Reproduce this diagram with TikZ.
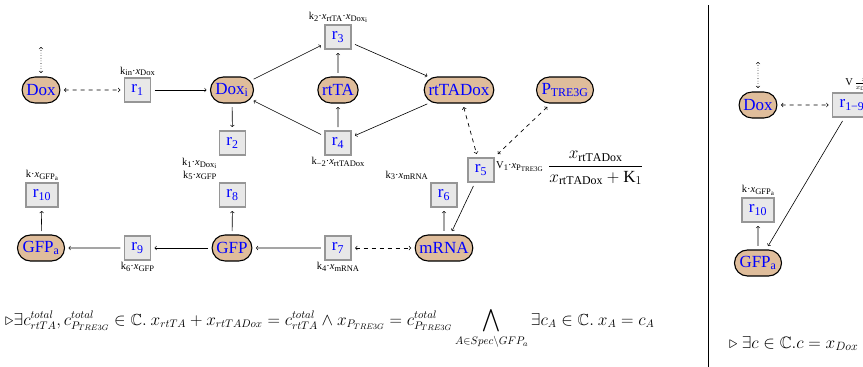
\documentclass[tikz,border=0pt]{standalone}
\usepackage{amsmath,amssymb}
\usepackage{fontspec}
\setmainfont{Liberation Serif}
\usetikzlibrary{
  positioning,
  shapes.misc,
  arrows
}
\definecolor{specfill}{RGB}{223,189,155}
\definecolor{reacfill}{RGB}{232,232,232}
\definecolor{reacdraw}{RGB}{150,150,150}
\newcommand{\lsub}[1]{\raisebox{-0.35ex}{\fontsize{8.5}{9}\selectfont #1}}
\newcommand{\llsub}[1]{\raisebox{-0.3ex}{\fontsize{7}{7}\selectfont #1}}

\begin{document}
\begin{tikzpicture}[x=1pt,y=-1pt,>=to,
    species/.style={rounded rectangle,draw,line width=1.1pt,fill=specfill,text=blue,
      font=\fontsize{17}{20}\selectfont,minimum height=26pt,inner xsep=3pt,outer sep=4pt},
    reac/.style={rectangle,draw=reacdraw,line width=1.3pt,fill=reacfill,text=blue,
      font=\fontsize{17}{20}\selectfont,minimum height=24pt,inner xsep=7pt,outer sep=4pt},
    rate/.style={font=\fontsize{10.5}{12}\selectfont,inner sep=1pt},
    modif/.style={<->,line width=0.7pt,dash pattern=on 4pt off 4pt},
    flow/.style={->,line width=0.6pt}]
  \useasboundingbox (0,0) rectangle (863,367);
  \clip (0,0) rectangle (863,367);
  % species
  \node[species] (dox) at (41,90) {Dox};
  \node[species] (doxi) at (232,90) {Dox\textsubscript{i}};
  \node[species] (rtta) at (338,90) {rtTA};
  \node[species] (rttadox) at (459,90) {rtTADox};
  \node[species] (ptre) at (565,90) {P\textsubscript{TRE3G}};
  \node[species] (mrna) at (444,248) {mRNA};
  \node[species] (gfp) at (232,248) {GFP};
  \node[species] (gfpa) at (41,248) {GFP\textsubscript{a}};
  \coordinate (doxin) at (41,47);
  % reactions
  \node[reac] (r1) at (137.5,90) {r\textsubscript{1}};
  \node[reac] (r2) at (232.5,143) {r\textsubscript{2}};
  \node[reac] (r3) at (338,37) {r\textsubscript{3}};
  \node[reac] (r4) at (338,143) {r\textsubscript{4}};
  \node[reac] (r5) at (481,170) {r\textsubscript{5}};
  \node[reac] (r6) at (444,195) {r\textsubscript{6}};
  \node[reac] (r7) at (338,248) {r\textsubscript{7}};
  \node[reac] (r8) at (232.5,195) {r\textsubscript{8}};
  \node[reac] (r9) at (137.5,248) {r\textsubscript{9}};
  \node[reac] (r10) at (42,195) {r\textsubscript{10}};
  % rates
  \node[rate,above=-3pt of r1] (k1) {k\lsub{in}·\textit{x}\lsub{Dox}};
  \node[rate,below left=-3pt of r2] (k2) {k\lsub{1}·\textit{x}\lsub{Dox\llsub{i}}};
  \node[rate,above=-3pt of r3] (k3) {k\lsub{2}·\textit{x}\lsub{rtTA}·\textit{x}\lsub{Dox\llsub{i}}};
  \node[rate,below=-3pt of r4] (k4) {k\lsub{−2}·\textit{x}\lsub{rtTADox}};
  \node[rate,anchor=west] (k5) at (495,167) {V\lsub{1}·\textit{x}\lsub{P\llsub{TRE3G}}};
  \node[anchor=west,font=\fontsize{17}{19}\selectfont,inner sep=1pt] (k5f) at (547,168)
    {$\dfrac{x_{\mathrm{rtTADox}}}{x_{\mathrm{rtTADox}}+\mathrm{K}_1}$};
  \node[rate,above left=-3pt of r6] (k6) {k\lsub{3}·\textit{x}\lsub{mRNA}};
  \node[rate,below=-3pt of r7] (k7) {k\lsub{4}·\textit{x}\lsub{mRNA}};
  \node[rate,above left=-3pt of r8] (k8) {k\lsub{5}·\textit{x}\lsub{GFP}};
  \node[rate,below=-3pt of r9] (k9) {k\lsub{6}·\textit{x}\lsub{GFP}};
  \node[rate,above=-3pt of r10] (k10) {k·\textit{x}\lsub{GFP\llsub{a}}};
  % connectors
  \draw[<->,dotted,line width=0.6pt] (doxin) -- (dox);
  \draw[modif] (dox) -- (r1);
  \draw[flow] (r1) -- (doxi);
  \draw[flow] (doxi) -- (r3);
  \draw[flow] (rtta) -- (r3);
  \draw[flow] (r3) -- (rttadox);
  \draw[flow] (rttadox) -- (r4);
  \draw[flow] (r4) -- (rtta);
  \draw[flow] (r4) -- (doxi);
  \draw[flow] (doxi) -- (r2);
  \draw[modif] (rttadox) -- (r5);
  \draw[modif] (ptre) -- (r5);
  \draw[flow] (r5) -- (mrna);
  \draw[flow] (mrna) -- (r6);
  \draw[modif] (r7) -- (mrna);
  \draw[flow] (r7) -- (gfp);
  \draw[flow] (gfp) -- (r8);
  \draw[flow] (gfp) -- (r9);
  \draw[flow] (r9) -- (gfpa);
  \draw[flow] (gfpa) -- (r10);
  % invariant
  \node[anchor=base west,font=\fontsize{16}{18}\selectfont,inner sep=0pt] (invL) at (5,325)
    {$\triangleright\exists c^{total}_{rtTA}, c^{total}_{P_{TRE3G}}\in\mathbb{C}.\ x_{rtTA}+x_{rtTADox}=c^{total}_{rtTA}\wedge x_{P_{TRE3G}}=c^{total}_{P_{TRE3G}}\displaystyle\bigwedge_{A\in Spec\setminus GFP_a}\exists c_A\in\mathbb{C}.\ x_A=c_A$};

  % reduced model
  \draw[line width=0.8pt] (708,5) -- (708,367);
  \node[species] (doxR) at (758,105) {Dox};
  \node[species] (gfpaR) at (758,263) {GFP\textsubscript{a}};
  \coordinate (doxinR) at (758,62);
  \node[reac] (rall) at (852,105) {r\textsubscript{1−9}};
  \node[reac] (r10R) at (758,210) {r\textsubscript{10}};
  \node[rate,above=-3pt of rall,xshift=12pt] (kall) {V\,$\frac{x_{\mathrm{Dox}}}{x_{\mathrm{Dox}}+\mathrm{K}}$};
  \node[rate,above=-3pt of r10R] (k10R) {k·\textit{x}\lsub{GFP\llsub{a}}};
  \draw[<->,dotted,line width=0.6pt] (doxinR) -- (doxR);
  \draw[modif] (doxR) -- (rall);
  \draw[flow] (rall) -- (gfpaR);
  \draw[flow] (gfpaR) -- (r10R);
  \node[anchor=base west,font=\fontsize{16.5}{18}\selectfont,inner sep=0pt] (invR) at (729,348)
    {$\triangleright\ \exists c\in\mathbb{C}.c=x_{Dox}$};
\end{tikzpicture}
\end{document}
